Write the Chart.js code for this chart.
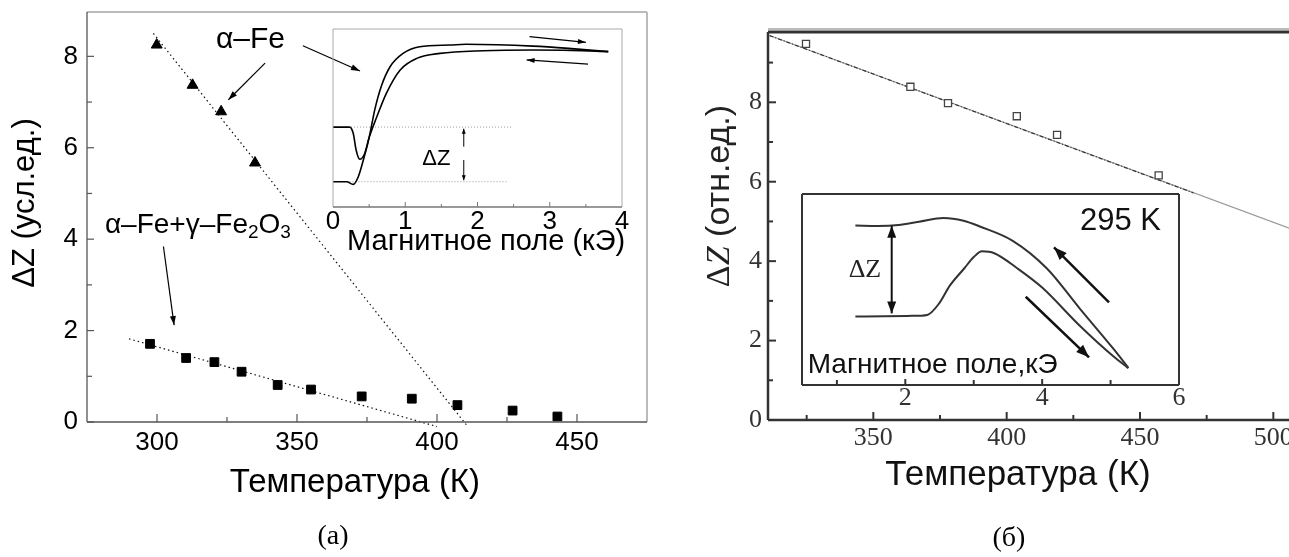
<!DOCTYPE html>
<html>
<head>
<meta charset="utf-8">
<script src="https://cdn.jsdelivr.net/npm/chart.js@4/dist/chart.umd.min.js"></script>
<style>
  body { margin: 0; width: 1289px; height: 557px; overflow: hidden; background: #fff; position: relative; }
  canvas { position: absolute; }
  .cap { position: absolute; font: 28px "Liberation Serif", "Times New Roman", serif; color: #000; transform: translate(-50%, -50%); white-space: nowrap; }
</style>
</head>
<body>
<canvas id="chartA" width="660" height="557" style="left:0;top:0"></canvas>
<canvas id="insetA" width="360" height="270" style="left:300px;top:0"></canvas>
<canvas id="chartB" width="660" height="557" style="left:660px;top:0"></canvas>
<canvas id="insetB" width="420" height="260" style="left:780px;top:170px"></canvas>
<div class="cap" style="left:333px;top:535px">(а)</div>
<div class="cap" style="left:1009px;top:537px">(б)</div>
<script>
const SANS = '"Liberation Sans", Arial, sans-serif';
const SERIF = '"Liberation Serif", "Times New Roman", serif';

// ---- panel (а): ΔZ vs temperature ----
const tempTri = [299.9, 312.7, 322.9, 335.0];
const dzTri = [8.25, 7.37, 6.79, 5.67];
const tempSq = [297.5, 310.4, 320.5, 330.2, 343.1, 355.0, 373.1, 391.0, 407.3, 427.0, 443.0];
const dzSq = [1.71, 1.40, 1.31, 1.10, 0.81, 0.71, 0.56, 0.51, 0.37, 0.25, 0.12];
const fitTriT = [298.7, 411.0];
const fitTriDZ = [8.5, -0.1];
const fitSqT = [290.0, 400.0];
const fitSqDZ = [1.82, -0.1];
const xTicksA = [300, 350, 400, 450];
const xMinorA = [325, 375, 425];
const yTicksA = [0, 2, 4, 6, 8];
const yMinorA = [1, 3, 5, 7];

// ---- inset (а): ΔZ vs field, hysteresis ----
const fieldA1 = [0, 0.23, 0.28, 0.32, 0.37, 0.44, 0.5, 0.6, 0.74, 0.93, 1.16, 1.48, 2.08, 2.77, 3.3, 3.81];
const zA1 = [4.49, 4.49, 4.14, 3.2, 2.68, 3.02, 3.9, 5.0, 6.4, 7.7, 8.35, 8.63, 8.78, 8.82, 8.8, 8.73];
const fieldA2 = [0, 0.19, 0.28, 0.35, 0.42, 0.5, 0.58, 0.67, 0.79, 0.97, 1.2, 1.62, 1.84, 2.77, 3.3, 3.81];
const zA2 = [1.42, 1.42, 1.27, 1.7, 2.64, 3.9, 5.5, 6.8, 7.88, 8.63, 9.0, 9.1, 9.14, 9.04, 8.9, 8.73];
const refHiH = [0.25, 2.48];
const refHiZ = [4.49, 4.49];
const refLoH = [0.02, 2.4];
const refLoZ = [1.42, 1.42];
const xTicksAi = [0, 1, 2, 3, 4];
const xMinorAi = [0.5, 1.5, 2.5, 3.5];

// ---- panel (б): ΔZ vs temperature ----
const tempB = [324.75, 363.9, 378.0, 403.8, 418.9, 457.0];
const dzB = [9.47, 8.39, 7.98, 7.65, 7.18, 6.16];
const fitBT = [311.1, 510.0];
const fitBDZ = [9.68, 4.73];
const dotBT = [311.1, 470.0];
const dotBDZ = [9.68, 5.72];
const xTicksB = [350, 400, 450, 500];
const xMinorB = [325, 375, 425, 475];
const yTicksB = [0, 2, 4, 6, 8];
const yMinorB = [1, 3, 5, 7, 9];

// ---- inset (б): ΔZ vs field at 295 K ----
const fieldB1 = [1.27, 1.6, 1.9, 2.2, 2.56, 2.85, 3.09, 3.57, 4.07, 4.55, 5.04, 5.26];
const zB1 = [8.35, 8.33, 8.38, 8.55, 8.74, 8.6, 8.3, 7.55, 6.1, 4.0, 1.9, 0.9];
const fieldB2 = [1.27, 1.7, 2.1, 2.32, 2.5, 2.65, 2.86, 3.0, 3.12, 3.3, 3.64, 4.0, 4.55, 5.04, 5.26];
const zB2 = [3.58, 3.6, 3.62, 3.67, 4.3, 5.2, 6.1, 6.7, 7.0, 6.9, 6.1, 5.1, 3.1, 1.5, 0.88];
const xTicksBi = [2, 4, 6];
const xMinorBi = [1, 3, 5];

const pts = (xs, ys) => xs.map((v, i) => ({ x: v, y: ys[i] }));

function drawRich(ctx, x, y, parts, align, rot, color) {
  ctx.save();
  ctx.translate(x, y);
  if (rot) ctx.rotate(rot);
  let w = 0;
  const widths = parts.map(p => { ctx.font = p.font; const m = ctx.measureText(p.t).width; w += m; return m; });
  let cx = align === 'left' ? 0 : align === 'right' ? -w : -w / 2;
  ctx.fillStyle = color || '#000';
  ctx.textBaseline = 'middle';
  ctx.textAlign = 'left';
  parts.forEach((p, i) => { ctx.font = p.font; ctx.fillText(p.t, cx, p.dy || 0); cx += widths[i]; });
  ctx.restore();
}

function drawArrow(ctx, x1, y1, x2, y2, n) {
  const hl = n.head[0], hw = n.head[1];
  const ang = Math.atan2(y2 - y1, x2 - x1);
  ctx.save();
  ctx.strokeStyle = n.color || '#000';
  ctx.fillStyle = n.color || '#000';
  ctx.lineWidth = n.width || 1;
  ctx.beginPath();
  ctx.moveTo(x1, y1);
  ctx.lineTo(x2, y2);
  ctx.stroke();
  const heads = n.both ? [[x2, y2, ang], [x1, y1, ang + Math.PI]] : [[x2, y2, ang]];
  heads.forEach(([hx, hy, a]) => {
    ctx.beginPath();
    ctx.moveTo(hx, hy);
    ctx.lineTo(hx - hl * Math.cos(a) + hw * Math.sin(a), hy - hl * Math.sin(a) - hw * Math.cos(a));
    ctx.lineTo(hx - hl * Math.cos(a) - hw * Math.sin(a), hy - hl * Math.sin(a) + hw * Math.cos(a));
    ctx.closePath();
    ctx.fill();
  });
  ctx.restore();
}

// frame, inward ticks, tick labels and annotations
function deco(cfg) {
  return {
    id: 'deco',
    afterDraw(chart) {
      const { ctx, chartArea: a } = chart;
      const sx = chart.scales.x, sy = chart.scales.y;
      ctx.save();
      (cfg.frame || []).forEach(f => {
        ctx.strokeStyle = f.color;
        ctx.lineWidth = f.width;
        const o = f.offset || 0;
        ctx.beginPath();
        if (f.side === 'left') { ctx.moveTo(a.left - o, a.top); ctx.lineTo(a.left - o, a.bottom); }
        if (f.side === 'right') { ctx.moveTo(a.right + o, a.top); ctx.lineTo(a.right + o, a.bottom); }
        if (f.side === 'top') { ctx.moveTo(a.left, a.top - o); ctx.lineTo(a.right, a.top - o); }
        if (f.side === 'bottom') { ctx.moveTo(a.left, a.bottom + o); ctx.lineTo(a.right, a.bottom + o); }
        ctx.stroke();
      });
      (cfg.ticks || []).forEach(t => {
        ctx.strokeStyle = t.color;
        ctx.lineWidth = t.width;
        t.values.forEach(v => {
          ctx.beginPath();
          if (t.axis === 'x') {
            const p = sx.getPixelForValue(v);
            ctx.moveTo(p, a.bottom); ctx.lineTo(p, a.bottom - t.len);
          } else {
            const p = sy.getPixelForValue(v);
            ctx.moveTo(a.left, p); ctx.lineTo(a.left + t.len, p);
          }
          ctx.stroke();
        });
      });
      (cfg.labels || []).forEach(l => {
        ctx.font = l.font;
        ctx.fillStyle = l.color;
        ctx.textBaseline = 'middle';
        l.values.forEach(v => {
          if (l.axis === 'x') {
            ctx.textAlign = 'center';
            ctx.fillText(String(v), sx.getPixelForValue(v), a.bottom + l.offset);
          } else {
            ctx.textAlign = 'right';
            ctx.fillText(String(v), a.left - l.offset, sy.getPixelForValue(v));
          }
        });
      });
      (cfg.notes || []).forEach(n => {
        if (n.kind === 'text') {
          drawRich(ctx, sx.getPixelForValue(n.x), sy.getPixelForValue(n.y), n.parts, n.align, n.rot, n.color);
        } else if (n.kind === 'arrow') {
          drawArrow(ctx, sx.getPixelForValue(n.x1), sy.getPixelForValue(n.y1),
            sx.getPixelForValue(n.x2), sy.getPixelForValue(n.y2), n);
        }
      });
      ctx.restore();
    }
  };
}

function makeChart(id, datasets, xr, yr, pad, cfg) {
  return new Chart(document.getElementById(id), {
    type: 'scatter',
    data: { datasets },
    options: {
      responsive: false,
      animation: false,
      devicePixelRatio: 1,
      layout: { padding: pad },
      plugins: { legend: { display: false }, tooltip: { enabled: false } },
      scales: {
        x: { type: 'linear', display: false, min: xr[0], max: xr[1] },
        y: { type: 'linear', display: false, min: yr[0], max: yr[1] }
      }
    },
    plugins: [deco(cfg)]
  });
}

const lineDs = (xs, ys, color, width, dash, extra) => Object.assign({
  data: pts(xs, ys), showLine: true, pointRadius: 0, borderColor: color,
  borderWidth: width, borderDash: dash || [], fill: false
}, extra || {});

// panel (а)
makeChart('chartA', [
  { data: pts(tempTri, dzTri), pointStyle: 'triangle', pointRadius: 6.3, backgroundColor: '#000', borderColor: '#000', borderWidth: 1 },
  { data: pts(tempSq, dzSq), pointStyle: 'rect', pointRadius: 6.2, backgroundColor: '#000', borderColor: '#000', borderWidth: 1 },
  lineDs(fitTriT, fitTriDZ, '#111', 1.2, [1.5, 3], { clip: false }),
  lineDs(fitSqT, fitSqDZ, '#111', 1.2, [1.5, 3], { clip: false })
], [275, 475], [0, 8.97], { left: 87, top: 12, right: 13, bottom: 135 }, {
  frame: [
    { side: 'top', color: '#777', width: 1 },
    { side: 'right', color: '#bbb', width: 2 },
    { side: 'left', color: '#555', width: 1.3 },
    { side: 'bottom', color: '#555', width: 1.3 }
  ],
  ticks: [
    { axis: 'x', values: xTicksA, len: 8, color: '#555', width: 1.2 },
    { axis: 'x', values: xMinorA, len: 5, color: '#555', width: 1.2 },
    { axis: 'y', values: yTicksA, len: 7, color: '#555', width: 1.2 },
    { axis: 'y', values: yMinorA, len: 5, color: '#555', width: 1.2 }
  ],
  labels: [
    { axis: 'x', values: xTicksA, font: '26px ' + SANS, color: '#000', offset: 21 },
    { axis: 'y', values: yTicksA, font: '26px ' + SANS, color: '#000', offset: 9 }
  ],
  notes: [
    { kind: 'text', x: 333.4, y: 8.36, parts: [{ t: 'α–Fe', font: '30px ' + SANS }] },
    { kind: 'arrow', x1: 352.1, y1: 8.23, x2: 372.5, y2: 7.68, head: [9, 3], width: 1.2 },
    { kind: 'arrow', x1: 338.6, y1: 7.85, x2: 325.5, y2: 7.05, head: [9, 3], width: 1.2 },
    { kind: 'text', x: 281.4, y: 4.31, align: 'left', parts: [
      { t: 'α–Fe+γ–Fe', font: '28px ' + SANS }, { t: '2', font: '19px ' + SANS, dy: 8 },
      { t: 'O', font: '28px ' + SANS }, { t: '3', font: '19px ' + SANS, dy: 8 }] },
    { kind: 'arrow', x1: 302.3, y1: 3.84, x2: 306.1, y2: 2.12, head: [9, 3], width: 1.2 },
    { kind: 'text', x: 370.7, y: -1.33, parts: [{ t: 'Температура (К)', font: '33px ' + SANS }] },
    { kind: 'text', x: 252.9, y: 4.79, rot: -Math.PI / 2, parts: [{ t: 'ΔZ (усл.ед.)', font: '31px ' + SANS }] }
  ]
});

// inset (а)
makeChart('insetA', [
  lineDs(fieldA1, zA1, '#000', 1.6, [], { cubicInterpolationMode: 'monotone' }),
  lineDs(fieldA2, zA2, '#000', 1.6, [], { cubicInterpolationMode: 'monotone' }),
  lineDs(refHiH, refHiZ, '#999', 1, [1, 2]),
  lineDs(refLoH, refLoZ, '#999', 1, [1, 2])
], [0, 4], [0, 10], { left: 33, top: 29, right: 38, bottom: 63 }, {
  frame: [
    { side: 'top', color: '#aaa', width: 1 },
    { side: 'right', color: '#aaa', width: 1 },
    { side: 'left', color: '#aaa', width: 1 },
    { side: 'bottom', color: '#777', width: 1.4 }
  ],
  ticks: [
    { axis: 'x', values: [1, 2, 3], len: 5, color: '#777', width: 1 },
    { axis: 'x', values: xMinorAi, len: 3, color: '#777', width: 1 }
  ],
  labels: [
    { axis: 'x', values: xTicksAi, font: '26px ' + SANS, color: '#000', offset: 15 }
  ],
  notes: [
    { kind: 'text', x: 1.43, y: 2.7, parts: [{ t: 'ΔZ', font: '22px ' + SANS }] },
    { kind: 'arrow', x1: 1.81, y1: 3.39, x2: 1.81, y2: 4.4, head: [5, 2], width: 1 },
    { kind: 'arrow', x1: 1.81, y1: 2.64, x2: 1.81, y2: 1.5, head: [5, 2], width: 1 },
    { kind: 'arrow', x1: 2.72, y1: 9.57, x2: 3.5, y2: 9.25, head: [8, 2.5], width: 1.2 },
    { kind: 'arrow', x1: 3.53, y1: 8.03, x2: 2.68, y2: 8.26, head: [8, 2.5], width: 1.2 },
    { kind: 'text', x: 2.12, y: -1.97, parts: [{ t: 'Магнитное поле (кЭ)', font: '29px ' + SANS }] }
  ]
});

// panel (б)
makeChart('chartB', [
  { data: pts(tempB, dzB), pointStyle: 'rect', pointRadius: 5, backgroundColor: '#fff', borderColor: '#444', borderWidth: 1.3 },
  lineDs(dotBT, dotBDZ, '#333', 1.2, [4, 2, 1, 2]),
  lineDs(fitBT, fitBDZ, '#999', 1.1, [])
], [310.5, 510], [0, 9.77], { left: 108, top: 32, right: 20, bottom: 137 }, {
  frame: [
    { side: 'top', color: '#bbb', width: 2, offset: 3 },
    { side: 'top', color: '#333', width: 3 },
    { side: 'left', color: '#333', width: 2.5 },
    { side: 'bottom', color: '#333', width: 2.5 }
  ],
  ticks: [
    { axis: 'x', values: xTicksB, len: 8, color: '#333', width: 2 },
    { axis: 'x', values: xMinorB, len: 5, color: '#333', width: 2 },
    { axis: 'y', values: yTicksB, len: 8, color: '#333', width: 2 },
    { axis: 'y', values: yMinorB, len: 5, color: '#333', width: 2 }
  ],
  labels: [
    { axis: 'x', values: xTicksB, font: '26px ' + SERIF, color: '#333', offset: 18 },
    { axis: 'y', values: yTicksB, font: '26px ' + SERIF, color: '#333', offset: 6 }
  ],
  notes: [
    { kind: 'text', x: 404.25, y: -1.385, parts: [{ t: 'Температура (К)', font: '35px ' + SANS }], color: '#111' },
    { kind: 'text', x: 292.5, y: 5.64, rot: -Math.PI / 2, color: '#222', parts: [
      { t: 'Δ', font: '34px ' + SERIF }, { t: 'Z', font: 'italic 34px ' + SERIF },
      { t: ' (отн.ед.)', font: '34px ' + SANS }] }
  ]
});

// inset (б)
makeChart('insetB', [
  lineDs(fieldB1, zB1, '#333', 2, [], { cubicInterpolationMode: 'monotone' }),
  lineDs(fieldB2, zB2, '#333', 2, [], { cubicInterpolationMode: 'monotone' })
], [0.49, 6.0], [0, 10], { left: 22, top: 24, right: 21, bottom: 45 }, {
  frame: [
    { side: 'top', color: '#333', width: 2 },
    { side: 'right', color: '#333', width: 2 },
    { side: 'left', color: '#333', width: 2 },
    { side: 'bottom', color: '#333', width: 2 }
  ],
  ticks: [
    { axis: 'x', values: [2, 4], len: 6, color: '#333', width: 2 },
    { axis: 'x', values: xMinorBi, len: 5, color: '#333', width: 2 }
  ],
  labels: [
    { axis: 'x', values: xTicksBi, font: '26px ' + SERIF, color: '#333', offset: 13 }
  ],
  notes: [
    { kind: 'text', x: 5.737, y: 8.55, align: 'right', parts: [{ t: '295 K', font: '31px ' + SANS }], color: '#111' },
    { kind: 'text', x: 1.41, y: 6.02, parts: [{ t: 'ΔZ', font: '26px ' + SERIF }], color: '#222' },
    { kind: 'arrow', x1: 1.801, y1: 8.34, x2: 1.801, y2: 3.75, head: [12, 4.5], width: 2, both: true, color: '#111' },
    { kind: 'arrow', x1: 4.977, y1: 4.33, x2: 4.173, y2: 7.21, head: [13, 5], width: 2.5, color: '#111' },
    { kind: 'arrow', x1: 3.76, y1: 4.62, x2: 4.685, y2: 1.45, head: [13, 5], width: 2.5, color: '#111' },
    { kind: 'text', x: 0.573, y: 1.05, align: 'left', parts: [{ t: 'Магнитное поле,кЭ', font: '28px ' + SANS }], color: '#111' }
  ]
});
</script>
</body>
</html>
